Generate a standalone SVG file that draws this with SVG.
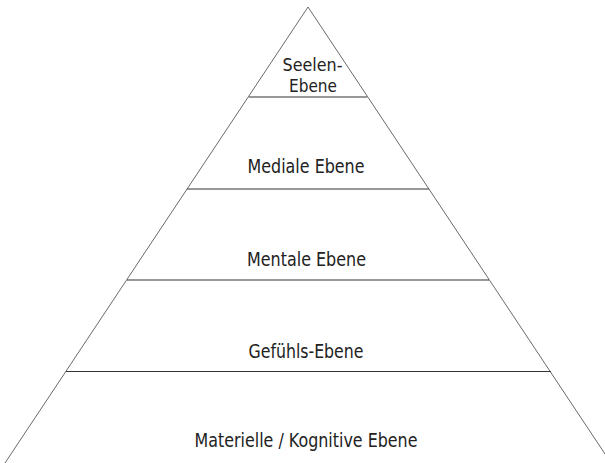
<svg xmlns="http://www.w3.org/2000/svg" width="605" height="463" viewBox="0 0 605 463">
<style>
.edge{stroke:#6a6a6a;stroke-width:1;fill:none}
.div{stroke:#333;stroke-width:1.2;fill:none}
.lbl{font-family:"DejaVu Sans Condensed","Liberation Sans Narrow","Liberation Sans",sans-serif;font-stretch:condensed;font-size:20px;fill:#222;text-anchor:middle}
.sm{font-size:17px}
</style>
<rect width="605" height="463" fill="#fff"/>
<g id="connectors">
<path class="edge" d="M5,463 L308,7 L611,463"/>
<line class="div" x1="249" y1="97" x2="367" y2="97"/>
<line class="div" x1="187" y1="189" x2="429" y2="189"/>
<line class="div" x1="127" y1="280" x2="489" y2="280"/>
<line class="div" x1="66" y1="371.5" x2="551" y2="371.5"/>
</g>
<g id="seelen">
<text class="lbl sm" x="312.5" y="71" textLength="60" lengthAdjust="spacingAndGlyphs">Seelen-</text>
<text class="lbl sm" x="313" y="92" textLength="48" lengthAdjust="spacingAndGlyphs">Ebene</text>
</g>
<g id="mediale"><text class="lbl" x="306" y="173" textLength="117" lengthAdjust="spacingAndGlyphs">Mediale Ebene</text></g>
<g id="mentale"><text class="lbl" x="306.5" y="266" textLength="119" lengthAdjust="spacingAndGlyphs">Mentale Ebene</text></g>
<g id="gefuehls"><text class="lbl" x="306" y="358" textLength="115" lengthAdjust="spacingAndGlyphs">Gefühls-Ebene</text></g>
<g id="materielle"><text class="lbl" x="306" y="447" textLength="223" lengthAdjust="spacingAndGlyphs">Materielle / Kognitive Ebene</text></g>
</svg>
